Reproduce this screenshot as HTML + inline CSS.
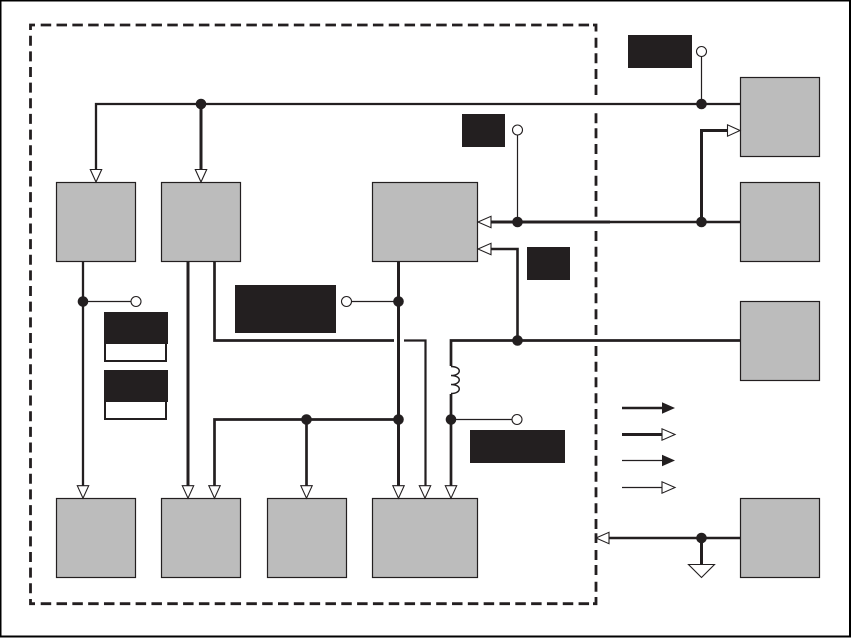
<!DOCTYPE html>
<html><head><meta charset="utf-8"><style>html,body{margin:0;padding:0;background:#fff}svg{display:block}</style></head>
<body>
<svg width="851" height="638" viewBox="0 0 851 638" xmlns="http://www.w3.org/2000/svg">
<rect x="0.5" y="0.5" width="849.5" height="636" fill="#fff" stroke="#000" stroke-width="2"/>
<g fill="none" stroke="#231f20" stroke-width="2.8">
<path d="M40.7 25H591" stroke-dasharray="10.5 5.32"/>
<path d="M40.7 603.7H591" stroke-dasharray="10.5 5.32"/>
<path d="M30.5 35.700V594" stroke-dasharray="10 5.646"/>
<path d="M35 25H30.500V30"/>
<path d="M30.500 599V603.700H35"/>
<path d="M593 25H596V31.500"/>
<path d="M593 603.700H596V597"/>
<path d="M596 37.700V47.700M596 53.300V63.300M596 69V79M596 84.700V95M596 113.300V123.300M596 128.300V138.300M596 144V154M596 160V170M596 175.700V185.700M596 191V201M596 206.700V216.700M596 231V241M596 246.700V256.700M596 261.700V271.700M596 277.300V287.300M596 293.300V303.300M596 309.300V319.300M596 325V335M596 346V356M596 361.700V371.700M596 377.300V387.300M596 393.300V403.300M596 409V419M596 424.300V434.300M596 440V450M596 455.700V465.700M596 471.700V481.700M596 487.300V497.300M596 503.300V513.300M596 519V529M596 533.300V543M596 550V560M596 565V575M596 581.700V591.700"/>
</g>
<g fill="#bcbcbc" stroke="#231f20" stroke-width="1.2">
<rect x="56.5" y="182.5" width="79" height="79"/><rect x="161.5" y="182.5" width="79" height="79"/><rect x="372.5" y="182.5" width="105" height="79"/>
<rect x="740.5" y="77.5" width="79" height="79"/><rect x="740.5" y="182.5" width="79" height="79"/><rect x="740.5" y="301.5" width="79" height="79"/><rect x="740.5" y="498.5" width="79" height="79"/>
<rect x="56.5" y="498.5" width="79" height="79"/><rect x="161.5" y="498.5" width="79" height="79"/><rect x="267.5" y="498.5" width="79" height="79"/><rect x="372.5" y="498.5" width="105" height="79"/>
</g>
<g fill="#231f20">
<rect x="628" y="35" width="64" height="33"/><rect x="462" y="114" width="43" height="33"/><rect x="527" y="247" width="43" height="33"/>
<rect x="235" y="285" width="101" height="48"/><rect x="470" y="430" width="95" height="33"/>
<rect x="104" y="312" width="64" height="32"/><rect x="104" y="370" width="64" height="32"/>
</g>
<g fill="none" stroke="#231f20" stroke-width="2">
<path d="M105 344V361H166V344"/><path d="M105 402V419H166V402"/>
</g>
<g fill="none" stroke="#231f20" stroke-linejoin="miter">
<path stroke-width="2.3" d="M740 104H96V170"/>
<path stroke-width="3" d="M201 104V170"/>
<path stroke-width="3" d="M490 222H610"/><path stroke-width="2.4" d="M610 222H740"/>
<path stroke-width="3" d="M701.5 222V130.500H728"/>
<path stroke-width="2.6" d="M490 249H517.500V340"/>
<path stroke-width="2.7" d="M740 340.500H451V366"/>
<path stroke-width="2.7" d="M451 394V486"/>
<path stroke-width="3" d="M398.500 261V486"/>
<path stroke-width="2.700" d="M214.500 261V340.500H394"/>
<path stroke-width="2.200" d="M404 340.500H425.500V486"/>
<path stroke-width="2.700" d="M214.500 486V419.500H398.500"/>
<path stroke-width="2.700" d="M306.500 419.500V486"/>
<path stroke-width="2.300" d="M83 261V486"/>
<path stroke-width="3" d="M188 261V486"/>
<path stroke-width="2.500" d="M608 538H740"/>
<path stroke-width="3" d="M701.500 538V565"/>
<path stroke-width="1.200" d="M701.500 104V56M517.500 222V135M83 301.500H131M351.500 301.500H398.500M451 419.500H512"/>
<path stroke-width="1.500" d="M451 366.500c11 0 11 9 0 9c11 0 11 9 0 9c11 0 11 9 0 9"/>
<path stroke-width="2.500" d="M622 408H663"/><path stroke-width="3" d="M622 434.500H663"/>
<path stroke-width="1.200" d="M622 460.500H663M622 487.500H663"/>
</g>
<g fill="#fff" stroke="#231f20" stroke-width="1.100">
<path d="M90.300 169.500H101.700L96 182Z"/><path d="M195.300 169.500H206.700L201 182Z"/>
<path d="M77.300 485.700H88.700L83 498.200Z"/><path d="M182.300 485.700H193.700L188 498.200Z"/><path d="M208.800 485.700H220.200L214.500 498.200Z"/><path d="M300.800 485.700H312.200L306.500 498.200Z"/>
<path d="M392.800 485.700H404.200L398.500 498.200Z"/><path d="M419.300 485.700H430.700L425 498.200Z"/><path d="M445.300 485.700H456.700L451 498.200Z"/>
<path d="M727.500 124.800V136.200L740 130.500Z"/>
<path d="M491 216.300V227.700L478 222Z"/><path d="M491 243.300V254.700L478 249Z"/>
<path d="M609 532.300V543.700L596 538Z"/>
<path d="M688.500 564.500H714.500L701.500 577.500Z"/>
<path d="M662 428.800V440.200L675 434.500Z"/><path d="M662 481.800V493.200L675 487.500Z"/>
<circle cx="701.500" cy="51.500" r="5"/><circle cx="517.500" cy="130" r="5"/><circle cx="136" cy="301.500" r="5"/><circle cx="346.500" cy="301.500" r="5"/><circle cx="517" cy="419.500" r="5"/>
</g>
<g fill="#231f20">
<path d="M662 402.300V413.700L675 408Z"/><path d="M662 454.800V466.200L675 460.500Z"/>
<circle cx="201" cy="104" r="5.300"/><circle cx="701.500" cy="104" r="5.300"/><circle cx="517.500" cy="222" r="5.300"/><circle cx="701.500" cy="222" r="5.300"/>
<circle cx="517.500" cy="340.500" r="5.300"/><circle cx="83" cy="301.500" r="5.300"/><circle cx="398.500" cy="301.500" r="5.300"/><circle cx="398.500" cy="419.500" r="5.300"/>
<circle cx="306.500" cy="419.500" r="5.300"/><circle cx="451" cy="419.500" r="5.300"/><circle cx="701.500" cy="538" r="5.300"/>
</g>
</svg>
</body></html>
